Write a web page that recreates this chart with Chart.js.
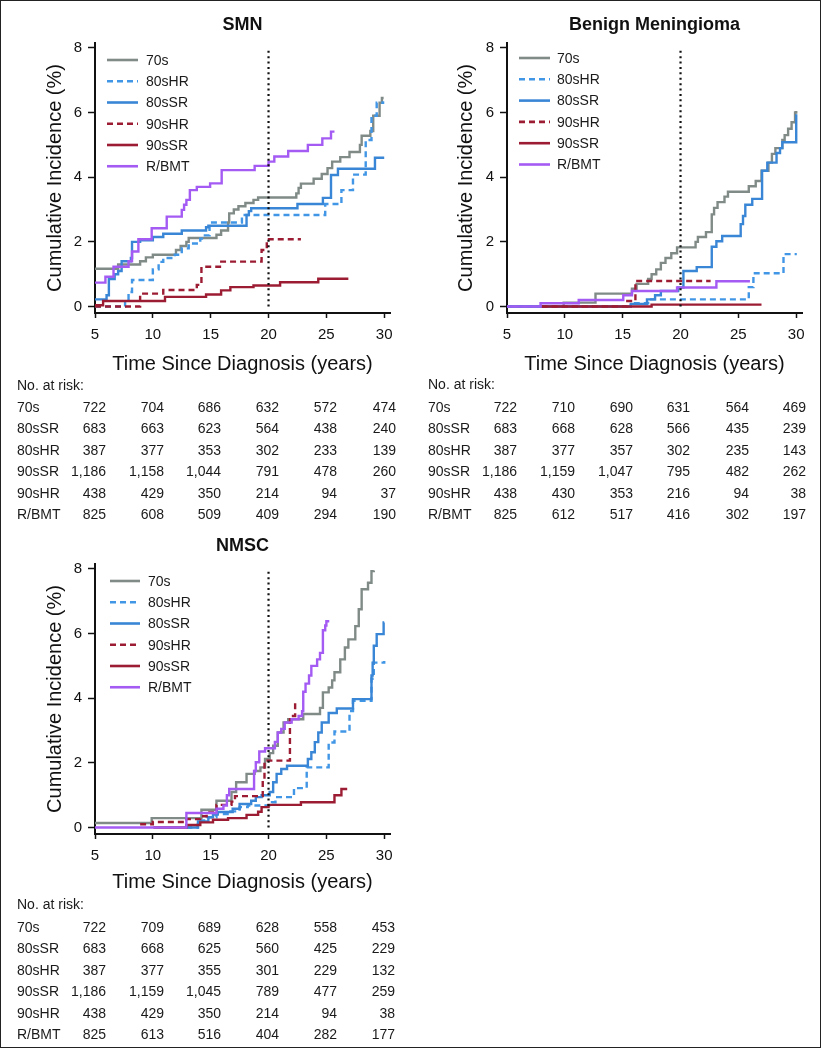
<!DOCTYPE html>
<html><head><meta charset="utf-8">
<script src="https://cdn.jsdelivr.net/npm/chart.js@4.4.1/dist/chart.umd.min.js"></script>
<style>
html,body{margin:0;padding:0;background:#fff;}
body{width:823px;height:1048px;position:relative;overflow:hidden;font-family:'Liberation Sans',Arial,Helvetica,sans-serif;color:#1a1a1a;}
#frame{position:absolute;left:0;top:0;width:821px;height:1048px;border:1px solid #222;box-sizing:border-box;pointer-events:none;}
canvas{position:absolute;}
.t{position:absolute;font-size:14px;line-height:16px;white-space:nowrap;}
.n{text-align:right;width:70px;}
</style></head><body>
<div id="frame"></div>
<canvas id="cSMN" width="410" height="380" style="left:0;top:0"></canvas>
<canvas id="cBM" width="410" height="380" style="left:410px;top:0"></canvas>
<canvas id="cNMSC" width="410" height="380" style="left:0;top:521px"></canvas>
<div id="tables"></div>
<script>
// ---------- data ----------
const seriesLabels = ['70s','80sHR','80sSR','90sHR','90sSR','R/BMT'];
const xTicks = [5,10,15,20,25,30];
const yTicks = [0,2,4,6,8];
const refLineX = 20;
const refLineY = [0, 7.97];

// SMN (time in years, cumulative incidence %)
const smn_70s = [[5,1.17],[7.0,1.3],[8.9,1.4],[9.4,1.52],[10.0,1.6],[12.0,1.75],[12.4,1.87],[12.9,2.0],[13.1,2.12],[15.5,2.22],[15.9,2.35],[16.5,2.6],[16.6,2.88],[17.0,3.0],[17.4,3.1],[18.0,3.2],[18.7,3.3],[19.1,3.37],[22.4,3.5],[22.6,3.67],[22.8,3.8],[23.9,3.95],[24.6,4.1],[25.1,4.28],[25.5,4.48],[26.2,4.62],[27.0,4.78],[27.9,5.0],[28.05,5.28],[28.8,5.43],[29.05,5.9],[29.6,6.3],[29.8,6.45],[29.95,6.45]];
const smn_80sHR = [[5,0],[7.6,0.2],[7.9,0.45],[8.2,0.82],[10.0,1.15],[10.5,1.38],[10.9,1.5],[11.9,1.6],[12.5,1.8],[13.1,1.95],[14.1,2.1],[14.5,2.2],[14.9,2.6],[17.7,2.83],[24.9,3.17],[26.3,3.6],[27.3,4.08],[28.4,5.15],[28.9,5.9],[29.35,6.3],[29.9,6.35]];
const smn_80sSR = [[5,0.22],[6.0,0.35],[6.2,0.85],[6.7,1.0],[7.0,1.1],[7.3,1.4],[8.1,1.5],[8.2,2.0],[8.9,2.05],[10.0,2.15],[10.9,2.25],[12.5,2.35],[14.6,2.45],[14.8,2.5],[18.1,2.83],[18.3,2.95],[18.5,3.04],[22.5,3.17],[24.7,3.36],[25.4,4.07],[26.0,4.26],[29.2,4.6],[30.0,4.6]];
const smn_90sHR = [[5,0],[8.9,0.4],[10.9,0.51],[13.8,0.67],[14.2,1.23],[15.8,1.39],[19.4,1.75],[19.85,2.08],[22.8,2.08]];
const smn_90sSR = [[5,0.04],[5.7,0.17],[11.05,0.3],[14.6,0.37],[15.9,0.5],[16.7,0.6],[18.7,0.65],[21.0,0.75],[24.3,0.86],[26.9,0.86]];
const smn_RBMT = [[5,0.74],[5.9,0.92],[6.6,1.23],[7.9,1.4],[8.2,1.7],[8.75,2.08],[9.9,2.42],[11.2,2.78],[12.5,2.99],[12.7,3.15],[12.9,3.3],[13.2,3.6],[13.8,3.7],[14.95,3.81],[15.95,4.22],[18.8,4.35],[20.0,4.48],[20.5,4.64],[21.7,4.81],[23.4,5.0],[24.65,5.2],[25.4,5.41],[25.7,5.41]];

// Benign Meningioma
const bm_70s = [[5,0],[9.9,0.12],[12.65,0.4],[15.8,0.55],[16.2,0.7],[17.2,0.85],[17.5,1.0],[17.9,1.15],[18.3,1.35],[18.7,1.5],[19.2,1.65],[19.7,1.83],[21.3,2.0],[21.5,2.15],[22.2,2.3],[22.7,2.85],[22.9,3.05],[23.2,3.23],[23.8,3.4],[24.1,3.55],[25.9,3.72],[26.5,3.88],[27.0,4.2],[27.6,4.45],[27.9,4.72],[28.2,4.9],[28.8,5.15],[29.0,5.3],[29.3,5.5],[29.6,5.7],[29.9,6.0],[30.0,6.05]];
const bm_80sHR = [[5,0],[15.7,0.1],[17.2,0.22],[25.9,0.6],[26.3,1.03],[28.9,1.62],[30.05,1.62]];
const bm_80sSR = [[5,0],[15.7,0.08],[17.1,0.22],[17.8,0.35],[18.3,0.48],[19.8,0.59],[20.25,1.1],[21.4,1.22],[22.7,1.85],[23.1,2.02],[23.6,2.18],[25.2,2.55],[25.4,2.8],[25.6,3.15],[26.2,3.33],[27.05,4.2],[27.5,4.45],[28.3,4.75],[28.6,4.9],[28.8,5.08],[30.0,5.95]];
const bm_90sHR = [[8,0],[15.4,0.17],[16.1,0.79],[22.6,0.79]];
const bm_90sSR = [[8,0],[17.5,0.06],[27.0,0.06]];
const bm_RBMT = [[5,0],[7.9,0.1],[11.2,0.2],[15.05,0.35],[15.8,0.48],[19.7,0.59],[23.1,0.78],[26.0,0.78]];

// NMSC
const nm_70s = [[5,0.14],[9.9,0.29],[14.2,0.55],[15.5,0.83],[16.8,1.1],[17.2,1.4],[18.1,1.66],[18.8,1.75],[19.3,1.86],[19.7,2.12],[20.1,2.3],[20.4,2.53],[20.8,2.94],[21.3,3.25],[21.7,3.35],[23.0,3.51],[24.45,3.7],[24.7,4.18],[25.2,4.33],[25.5,4.55],[25.7,4.8],[26.2,5.2],[26.6,5.57],[26.9,5.82],[27.5,6.23],[27.8,6.75],[28.05,7.37],[28.6,7.57],[28.9,7.93],[29.1,7.95]];
const nm_80sHR = [[12.9,0],[13.9,0.22],[14.65,0.32],[15.5,0.42],[16.7,0.5],[17.5,0.63],[18.2,0.68],[20.3,0.78],[20.6,0.94],[22.2,1.22],[23.3,1.86],[25.2,2.63],[25.7,2.97],[27.0,3.6],[27.3,3.92],[28.9,4.6],[29.1,5.1],[30.0,5.15]];
const nm_80sSR = [[12.9,0],[13.9,0.19],[14.8,0.32],[15.2,0.4],[15.6,0.48],[16.9,0.58],[17.5,0.73],[18.5,0.83],[18.9,0.94],[19.4,1.0],[20.1,1.1],[20.4,1.4],[20.7,1.66],[21.1,1.81],[21.6,1.91],[23.4,2.12],[23.7,2.33],[24.0,2.64],[24.3,2.94],[24.6,3.25],[25.2,3.54],[25.9,3.68],[27.3,3.97],[28.9,4.7],[29.0,5.1],[29.1,5.62],[29.35,5.98],[29.95,6.34],[30.0,6.34]];
const nm_90sHR = [[8.9,0.1],[10.0,0.17],[12.9,0.26],[14.1,0.35],[14.65,0.47],[15.5,0.7],[16.8,0.8],[17.1,0.97],[19.5,1.45],[19.65,2.07],[21.85,3.45],[22.3,3.9],[22.45,3.9]];
const nm_90sSR = [[10.05,0],[12.9,0.08],[14.1,0.16],[15.2,0.24],[16.5,0.29],[18.1,0.39],[19.1,0.49],[19.4,0.63],[20.0,0.7],[22.8,0.78],[25.7,1.0],[26.3,1.19],[26.8,1.19]];
const nm_RBMT = [[5,0],[12.9,0.45],[15.5,0.58],[16.1,0.68],[16.4,1.0],[16.6,1.19],[18.75,1.75],[18.9,2.02],[19.2,2.35],[19.7,2.45],[20.55,2.65],[20.8,2.94],[21.1,3.05],[21.4,3.25],[22.0,3.35],[22.6,3.45],[22.9,3.6],[23.0,4.2],[23.2,4.45],[23.5,4.7],[23.7,5.0],[24.2,5.2],[24.45,5.4],[24.7,6.1],[24.9,6.25],[25.0,6.38],[25.25,6.38]];

// Numbers at risk (rows in table order), columns at years 5..30
const riskRowLabels = ['70s','80sSR','80sHR','90sSR','90sHR','R/BMT'];
const riskSMN_70s   = [722,704,686,632,572,474];
const riskSMN_80sSR = [683,663,623,564,438,240];
const riskSMN_80sHR = [387,377,353,302,233,139];
const riskSMN_90sSR = [1186,1158,1044,791,478,260];
const riskSMN_90sHR = [438,429,350,214,94,37];
const riskSMN_RBMT  = [825,608,509,409,294,190];
const riskBM_70s   = [722,710,690,631,564,469];
const riskBM_80sSR = [683,668,628,566,435,239];
const riskBM_80sHR = [387,377,357,302,235,143];
const riskBM_90sSR = [1186,1159,1047,795,482,262];
const riskBM_90sHR = [438,430,353,216,94,38];
const riskBM_RBMT  = [825,612,517,416,302,197];
const riskNM_70s   = [722,709,689,628,558,453];
const riskNM_80sSR = [683,668,625,560,425,229];
const riskNM_80sHR = [387,377,355,301,229,132];
const riskNM_90sSR = [1186,1159,1045,789,477,259];
const riskNM_90sHR = [438,429,350,214,94,38];
const riskNM_RBMT  = [825,613,516,404,282,177];

// ---------- styling ----------
const F = "'Liberation Sans', Arial, Helvetica, sans-serif";
const styles = [
  {color:'#808b88', dash:[]},        // 70s
  {color:'#4196e6', dash:[6,4]},     // 80sHR
  {color:'#3a86d6', dash:[]},        // 80sSR
  {color:'#9c1c33', dash:[6,4]},     // 90sHR
  {color:'#9c1c33', dash:[]},        // 90sSR
  {color:'#a45bf3', dash:[]}         // R/BMT
];
const drawOrder = [6,5,4,3,2,1];

const kmLegend = {
  id:'kmLegend',
  afterDatasetsDraw(chart, args, opts){
    const ctx = chart.ctx;
    ctx.save();
    chart.data.datasets.forEach((d,i)=>{
      if (d.isRef) return;
      const y = opts.y0 + i*opts.dy;
      ctx.beginPath();
      ctx.setLineDash(d.borderDash || []);
      ctx.strokeStyle = d.borderColor;
      ctx.lineWidth = 2.6;
      ctx.moveTo(opts.x0, y); ctx.lineTo(opts.x1, y); ctx.stroke();
      ctx.setLineDash([]);
      ctx.fillStyle = '#1a1a1a';
      ctx.font = '14px ' + F;
      ctx.textBaseline = 'middle'; ctx.textAlign = 'left';
      ctx.fillText(d.label, opts.tx, y + 1);
    });
    ctx.restore();
  }
};

function makeChart(id, title, seriesData, g){
  const datasets = seriesData.map((data,i)=>({
    label: seriesLabels[i],
    data: data.map(p=>({x:p[0], y:p[1]})),
    borderColor: styles[i].color,
    borderDash: styles[i].dash,
    borderWidth: 2.4,
    stepped: true,
    pointRadius: 0,
    fill: false,
    order: drawOrder[i]
  }));
  datasets.push({
    label: 'ref', isRef: true,
    data: refLineY.map(v=>({x:refLineX, y:v})),
    borderColor: '#111', borderDash:[2,3.4], borderWidth:2.2,
    pointRadius:0, fill:false, order:0
  });
  return new Chart(document.getElementById(id), {
    type:'line',
    data:{datasets},
    plugins:[kmLegend],
    options:{
      responsive:false, animation:false, devicePixelRatio:1,
      layout:{padding:{left:0, right:g.padRight, top:0, bottom:0}},
      plugins:{
        legend:{display:false}, tooltip:{enabled:false},
        title:{display:true, text:title, fullSize:false, color:'#111',
               font:{size:18, weight:'bold', family:F}, padding:{top:14, bottom:7.4}},
        kmLegend:g.legend
      },
      scales:{
        x:{type:'linear', min:5, max:30.5,
           afterBuildTicks:s=>{s.ticks = xTicks.map(v=>({value:v}));},
           afterFit:s=>{s.height = 67;},
           grid:{display:true, drawOnChartArea:false, drawTicks:true, tickLength:5, tickWidth:1.5, tickColor:'#111'},
           border:{display:true, color:'#111', width:2},
           ticks:{font:{size:15, family:F}, color:'#111', padding:8, maxRotation:0, autoSkip:false},
           title:{display:true, text:'Time Since Diagnosis (years)', color:'#111',
                  font:{size:20, family:F}, padding:{top:0, bottom:g.xTitlePad}}},
        y:{type:'linear', min:-0.2, max:8.15,
           afterBuildTicks:s=>{s.ticks = yTicks.map(v=>({value:v}));},
           afterFit:s=>{s.width = g.yAxisW;},
           grid:{display:true, drawOnChartArea:false, drawTicks:true, tickLength:7, tickWidth:1.5, tickColor:'#111'},
           border:{display:true, color:'#111', width:2},
           ticks:{font:{size:15, family:F}, color:'#111', padding:6},
           title:{display:true, text:'Cumulative Incidence (%)', color:'#111',
                  font:{size:20, family:F}, padding:{top:g.yTitlePad, bottom:0}}}
      }
    }
  });
}

makeChart('cSMN','SMN',[smn_70s,smn_80sHR,smn_80sSR,smn_90sHR,smn_90sSR,smn_RBMT],
  {padRight:20, yAxisW:95, yTitlePad:43, xTitlePad:4, legend:{x0:107,x1:138,tx:146,y0:60,dy:21.25}});
makeChart('cBM','Benign Meningioma',[bm_70s,bm_80sHR,bm_80sSR,bm_90sHR,bm_90sSR,bm_RBMT],
  {padRight:18, yAxisW:97, yTitlePad:44, xTitlePad:4, legend:{x0:109,x1:140,tx:147,y0:58,dy:21.3}});
makeChart('cNMSC','NMSC',[nm_70s,nm_80sHR,nm_80sSR,nm_90sHR,nm_90sSR,nm_RBMT],
  {padRight:20, yAxisW:95, yTitlePad:43, xTitlePad:7, legend:{x0:110,x1:140,tx:148,y0:60,dy:21.25}});

// ---------- number-at-risk tables ----------
const tables = document.getElementById('tables');
function addText(txt, cls, left, top){
  const d = document.createElement('div');
  d.className = 't' + (cls ? ' ' + cls : '');
  d.textContent = txt;
  d.style.left = left + 'px';
  d.style.top = top + 'px';
  tables.appendChild(d);
}
function makeTable(labelX, rightEdges, yHeader, yFirst, dy, rows){
  addText('No. at risk:', '', labelX, yHeader - 8);
  rows.forEach((vals, r)=>{
    const y = yFirst + r*dy;
    addText(riskRowLabels[r], '', labelX, y - 8);
    vals.forEach((v,c)=>{
      addText(v.toLocaleString('en-US'), 'n', rightEdges[c] - 70, y - 8);
    });
  });
}
makeTable(17, [106,164,221,279,337,396], 385, 406.7, 21.5,
  [riskSMN_70s,riskSMN_80sSR,riskSMN_80sHR,riskSMN_90sSR,riskSMN_90sHR,riskSMN_RBMT]);
makeTable(428, [517,575,633,690,749,806], 384, 406.7, 21.5,
  [riskBM_70s,riskBM_80sSR,riskBM_80sHR,riskBM_90sSR,riskBM_90sHR,riskBM_RBMT]);
makeTable(17, [106,164,221,279,337,395], 904.3, 926.7, 21.5,
  [riskNM_70s,riskNM_80sSR,riskNM_80sHR,riskNM_90sSR,riskNM_90sHR,riskNM_RBMT]);
</script>
</body></html>
